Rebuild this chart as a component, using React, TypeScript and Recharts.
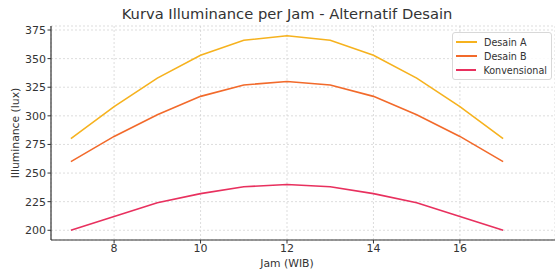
import React from "react";
import { LineChart, Line, XAxis, YAxis, CartesianGrid } from "recharts";

const hours = [7, 8, 9, 10, 11, 12, 13, 14, 15, 16, 17];
const desainA = [280, 308, 333, 353, 366, 370, 366, 353, 333, 308, 280];
const desainB = [260, 282, 301, 317, 327, 330, 327, 317, 301, 282, 260];
const konvensional = [200, 212, 224, 232, 238, 240, 238, 232, 224, 212, 200];
const xTicks = [8, 10, 12, 14, 16];
const yTicks = [200, 225, 250, 275, 300, 325, 350, 375];

const seriesNames = ["Desain A", "Desain B", "Konvensional"];
const colors = ["#F6B21E", "#F26A2B", "#E8305E"];

const data = hours.map((h, i) => ({
  jam: h,
  a: desainA[i],
  b: desainB[i],
  k: konvensional[i],
}));

const FONT = "'DejaVu Sans', sans-serif";
const TXT = "#333333";

const LegendBox = () => (
  <div
    style={{
      position: "absolute",
      left: 452,
      top: 32,
      border: "1px solid #d8d8d8",
      borderRadius: 3,
      background: "rgba(255,255,255,0.85)",
      padding: "2px 4px 2px 3px",
      fontFamily: FONT,
      fontSize: 9.6,
      color: TXT,
      width: 100,
      boxSizing: "border-box",
    }}
  >
    {seriesNames.map((n, i) => (
      <div key={n} style={{ display: "flex", alignItems: "center", height: 14 }}>
        <div style={{ width: 21, height: 1.5, background: colors[i], marginRight: 7 }} />
        <span>{n}</span>
      </div>
    ))}
  </div>
);

export default function App() {
  return (
    <div style={{ position: "absolute", left: 0, top: 0, width: 555, height: 275, background: "#fff" }}>
      <LineChart
        width={555}
        height={275}
        data={data}
        margin={{ top: 26, right: 0, left: 0, bottom: 0 }}
        style={{ position: "absolute", left: 0, top: 0 }}
      >
        <CartesianGrid stroke="#cfcfcf" strokeDasharray="2 2" strokeWidth={0.7} />
        <XAxis
          dataKey="jam"
          type="number"
          domain={[6.54, 18.2]}
          ticks={xTicks}
          allowDataOverflow
          height={35}
          tickSize={3.5}
          tickMargin={1}
          axisLine={{ stroke: "#333", strokeWidth: 1.2 }}
          tickLine={{ stroke: "#333" }}
          tick={{ fill: TXT, fontSize: 11, fontFamily: FONT }}
        />
        <YAxis
          type="number"
          domain={[191.5, 378.5]}
          ticks={yTicks}
          allowDataOverflow
          width={51}
          tickSize={3.5}
          tickMargin={1.5}
          axisLine={{ stroke: "#333", strokeWidth: 1.2 }}
          tickLine={{ stroke: "#333" }}
          tick={{ fill: TXT, fontSize: 11, fontFamily: FONT }}
        />
        <Line dataKey="a" name={seriesNames[0]} stroke={colors[0]} strokeWidth={1.6} dot={false} isAnimationActive={false} />
        <Line dataKey="b" name={seriesNames[1]} stroke={colors[1]} strokeWidth={1.6} dot={false} isAnimationActive={false} />
        <Line dataKey="k" name={seriesNames[2]} stroke={colors[2]} strokeWidth={1.6} dot={false} isAnimationActive={false} />
      </LineChart>
      <div
        style={{
          position: "absolute",
          left: 0,
          width: 574,
          top: 5,
          textAlign: "center",
          fontFamily: FONT,
          fontSize: 14.7,
          color: TXT,
          lineHeight: "18px",
          whiteSpace: "nowrap",
        }}
      >
        Kurva Illuminance per Jam - Alternatif Desain
      </div>
      <div
        style={{
          position: "absolute",
          left: 15,
          top: 133,
          transform: "translate(-50%, -50%) rotate(-90deg)",
          fontFamily: FONT,
          fontSize: 10.8,
          color: TXT,
          whiteSpace: "nowrap",
        }}
      >
        Illuminance (lux)
      </div>
      <div
        style={{
          position: "absolute",
          left: 0,
          width: 574,
          top: 257,
          textAlign: "center",
          fontFamily: FONT,
          fontSize: 10.8,
          color: TXT,
          lineHeight: "14px",
          whiteSpace: "nowrap",
        }}
      >
        Jam (WIB)
      </div>
      <LegendBox />
    </div>
  );
}
